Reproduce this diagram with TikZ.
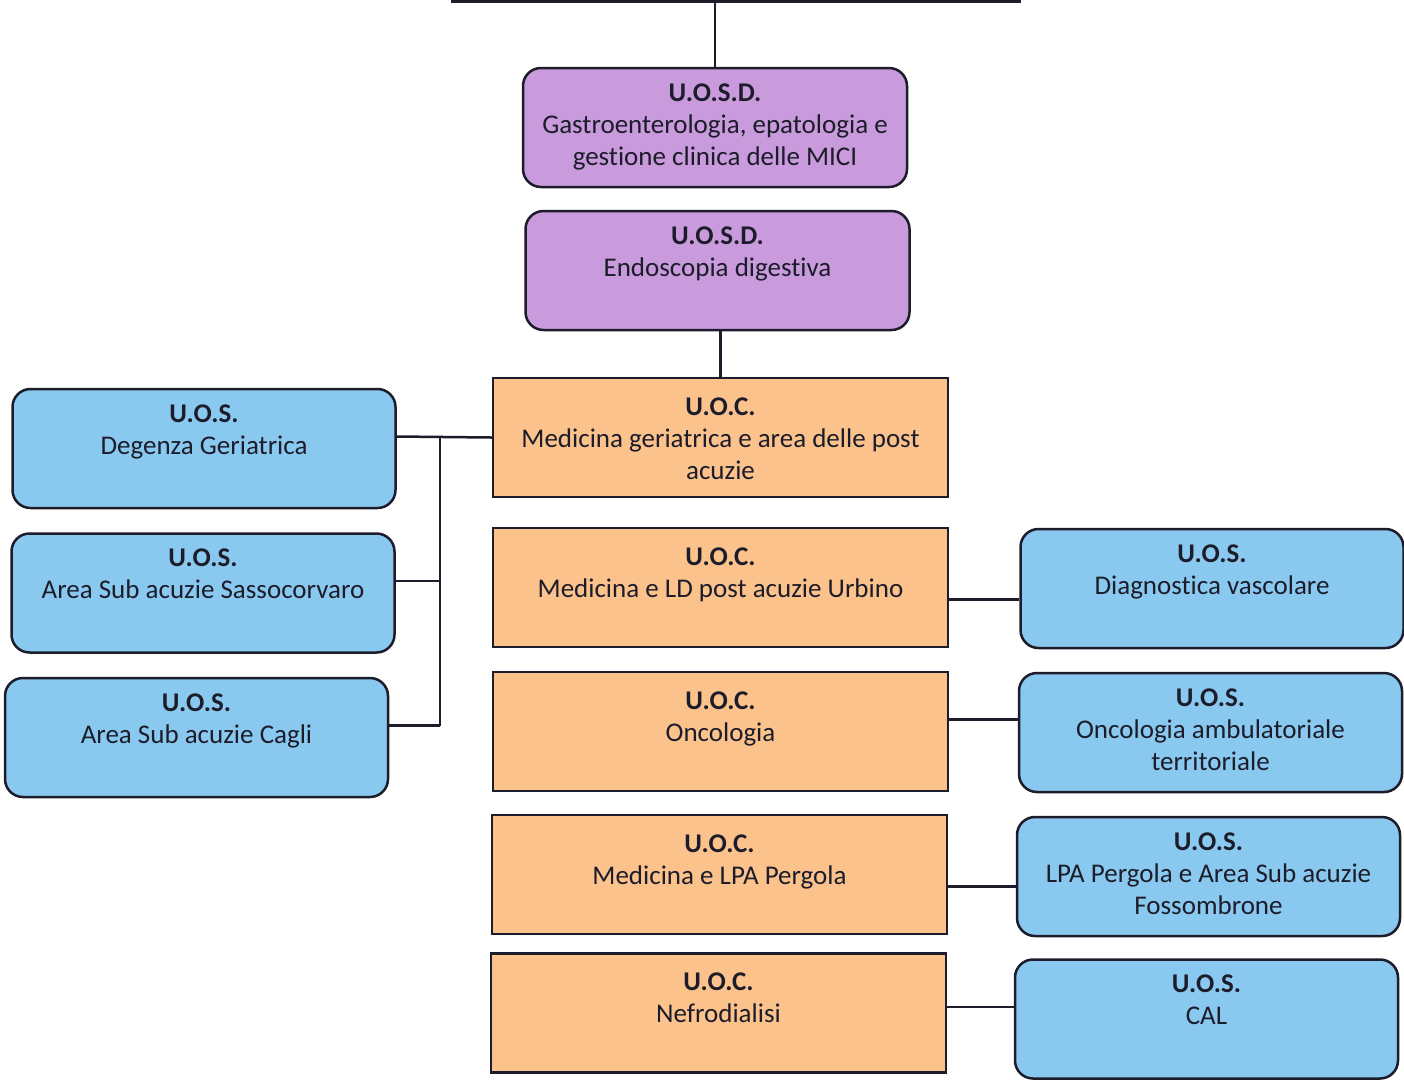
\documentclass[tikz,border=0pt]{standalone}
\usepackage{fontspec}
\setmainfont{Carlito}[Ligatures=NoCommon]
\usetikzlibrary{positioning}

\definecolor{uosdfill}{HTML}{C99BDD}
\definecolor{uocfill}{HTML}{FBC28C}
\definecolor{uosfill}{HTML}{8AC9EF}
\definecolor{edge}{HTML}{1C1C2A}

% title in bold, then the name; text starts at the top of the box
\newcommand{\cell}[4][33pt]{\parbox[c][119pt][t]{#2}{\centering\rule{0pt}{#1}\textbf{#3}\\#4}}

\tikzset{
  box/.style={draw=edge, line width=2.5pt, inner sep=0pt, minimum height=119pt,
    text=edge, font=\fontsize{27}{32}\selectfont},
  uosdbox/.style={box, fill=uosdfill, rounded corners=18pt, minimum width=384pt},
  uocbox/.style={box, fill=uocfill, minimum width=455pt},
  uosbox/.style={box, fill=uosfill, rounded corners=18pt, minimum width=383pt},
  link/.style={draw=edge, line width=2.5pt}
}

\begin{document}
\begin{tikzpicture}[x=1pt, y=-1pt]
  \useasboundingbox[fill=white] (0,0) rectangle (1404,1080);
  \clip (0,0) rectangle (1404,1080);

  %head box, cut by the page
  \node[box, fill=white, minimum width=568pt] (head) at (736,-58) {};

  %uosd
  \node[uosdbox] (gastro) at (715,127.5)
    {\cell{370pt}{U.O.S.D.}{Gastroenterologia, epatologia e\\gestione clinica delle MICI}};
  \node[uosdbox] (endo) at (717.5,270.5)
    {\cell{370pt}{U.O.S.D.}{Endoscopia digestiva}};

  %uoc
  \node[uocbox] (geria) at (720.5,437.5)
    {\cell[37pt]{440pt}{U.O.C.}{Medicina geriatrica e area delle post\\acuzie}};
  \node[uocbox] (urbino) at (720.5,587.5)
    {\cell[37pt]{440pt}{U.O.C.}{Medicina e LD post acuzie Urbino}};
  \node[uocbox] (onco) at (720.5,731.5)
    {\cell[37pt]{440pt}{U.O.C.}{Oncologia}};
  \node[uocbox] (pergola) at (719.5,874.5)
    {\cell[37pt]{440pt}{U.O.C.}{Medicina e LPA Pergola}};
  \node[uocbox] (nefro) at (718.5,1013)
    {\cell[37pt]{440pt}{U.O.C.}{Nefrodialisi}};

  %uos, left
  \node[uosbox] (degenza) at (204,448.5)
    {\cell{370pt}{U.O.S.}{Degenza Geriatrica}};
  \node[uosbox] (sasso) at (203,593)
    {\cell{370pt}{U.O.S.}{Area Sub acuzie Sassocorvaro}};
  \node[uosbox] (cagli) at (196.5,737.5)
    {\cell{370pt}{U.O.S.}{Area Sub acuzie Cagli}};

  %uos, right
  \node[uosbox] (vasc) at (1212,588.5)
    {\cell{370pt}{U.O.S.}{Diagnostica vascolare}};
  \node[uosbox] (ambu) at (1210.5,732.5)
    {\cell{370pt}{U.O.S.}{Oncologia ambulatoriale\\territoriale}};
  \node[uosbox] (fosso) at (1208.5,876.5)
    {\cell{370pt}{U.O.S.}{LPA Pergola e Area Sub acuzie\\Fossombrone}};
  \node[uosbox] (cal) at (1206.5,1019)
    {\cell{370pt}{U.O.S.}{CAL}};

  %vertical links
  \draw[link] (gastro.north) -- (gastro.north |- head.south);
  \draw[link] (geria.north) -- (geria.north |- endo.south);

  %left bus
  \coordinate (bus) at (440,437);
  \coordinate (busend) at ([yshift=12pt]cagli.east -| bus);
  \draw[link] ([yshift=12pt]degenza.east) -- (geria.west);
  \foreach \n in {sasso,cagli}
    \draw[link] ([yshift=12pt]\n.east) -- ([yshift=12pt]\n.east -| bus);
  \draw[link] (bus) -- (busend);

  %right links
  \draw[link] ([yshift=-12pt]urbino.east) -- ([yshift=-12pt]urbino.east -| vasc.west);
  \draw[link] ([yshift=12pt]onco.east) -- ([yshift=12pt]onco.east -| ambu.west);
  \draw[link] ([yshift=-12pt]pergola.east) -- ([yshift=-12pt]pergola.east -| fosso.west);
  \draw[link] ([yshift=6pt]nefro.east) -- ([yshift=6pt]nefro.east -| cal.west);
\end{tikzpicture}
\end{document}
